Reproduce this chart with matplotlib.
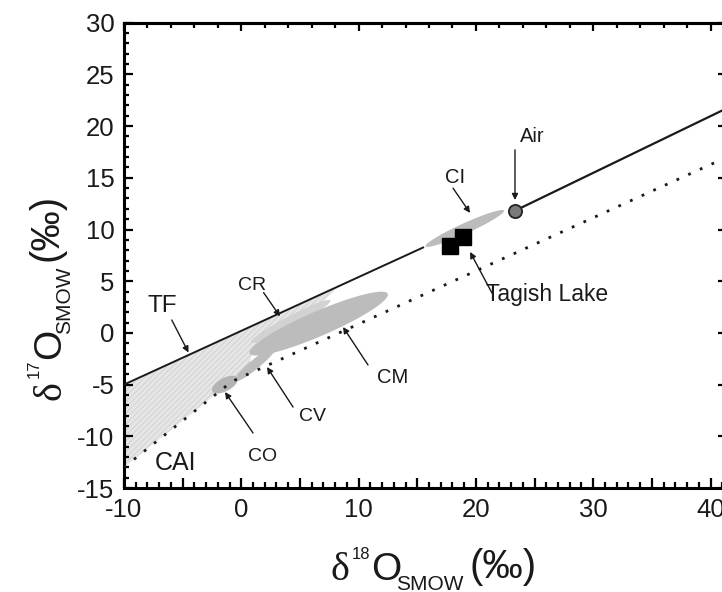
import numpy as np
import matplotlib
matplotlib.use('Agg')
import matplotlib.pyplot as plt
from matplotlib.patches import Polygon
from matplotlib.ticker import MultipleLocator, FuncFormatter, NullFormatter

plt.rcParams['font.family'] = ['Liberation Sans', 'DejaVu Sans']
plt.rcParams['axes.unicode_minus'] = False
plt.rcParams['hatch.linewidth'] = 0.7

W, H = 722, 592
INK = '#1a1a1a'
FIELD_GREY = '#bcbcbc'

# terrestrial fractionation line: d17O = TF_SLOPE * d18O + TF_OFFSET
TF_SLOPE = 0.52
TF_OFFSET = 0.2
TF_X = [-10.0, 15.5]          # left piece, stops at the CI field
TF_X_RIGHT_END = 41.2

# dotted reference line running up from the CAI corner
dotted_x = [-10.0, -0.8, 41.2]
dotted_y = [-13.0, -4.7, 16.9]

# light hatched CAI region
cai_x = [-10.0, 8.4, 6.0, 1.0, 0.6, -0.6, -1.6, -10.0]
cai_y = [-5.0, 4.57, 2.0, -1.6, -3.4, -4.3, -5.42, -13.0]

# chondrite group fields: long-axis end points and vertical half thickness
field_names = ['CR', 'CM', 'CV', 'CO', 'CI']
field_x0 = [0.8, 0.7, -0.6, -2.5, 15.7]
field_y0 = [-0.9, -1.9, -4.6, -5.5, 8.4]
field_x1 = [7.6, 12.5, 3.0, -0.3, 22.4]
field_y1 = [3.1, 3.7, -1.4, -4.5, 11.8]
field_h = [0.6, 1.3, 0.6, 0.7, 0.55]
field_color = ['#d2d2d2', FIELD_GREY, FIELD_GREY, '#b4b4b4', FIELD_GREY]

tagish_x = [17.8, 18.9]
tagish_y = [8.4, 9.25]
air_x, air_y = 23.3, 11.8

label_text = ['TF', 'CAI', 'CR', 'CM', 'CV', 'CO', 'CI', 'Air', 'Tagish Lake']
label_x = [-6.7, -5.65, 0.9, 12.9, 6.1, 1.85, 18.2, 24.8, 26.1]
label_y = [2.6, -12.6, 4.6, -4.3, -8.1, -12.0, 15.0, 18.95, 3.67]
label_size = [17.5, 18, 14, 14.5, 14, 14, 14.5, 14.5, 16.5]

# arrows: tail -> head
arrow_tail_x = [-5.93, 1.9, 10.8, 4.41, 1.0, 18.05, 23.33, 21.37]
arrow_tail_y = [1.25, 3.9, -3.1, -7.17, -9.68, 14.0, 17.7, 3.86]
arrow_head_x = [-4.5, 3.3, 8.67, 2.19, -1.39, 19.5, 23.33, 19.5]
arrow_head_y = [-1.9, 1.6, 0.57, -3.3, -5.72, 11.6, 12.85, 7.83]


def field_outline(x0, y0, x1, y1, h, n=120):
    t = np.linspace(0, 2 * np.pi, n)
    cx, cy = (x0 + x1) / 2, (y0 + y1) / 2
    ax_, ay_ = (x1 - x0) / 2, (y1 - y0) / 2
    return np.column_stack([cx + ax_ * np.cos(t), cy + ay_ * np.cos(t) + h * np.sin(t)])


def px(x, y):
    return x / W, 1 - y / H


fig = plt.figure(figsize=(W / 100, H / 100), dpi=100)
ax = fig.add_axes([124 / W, 1 - 488 / H, (724.6 - 124) / W, (488 - 22.7) / H])
ax.set_xlim(-10, 41.2)
ax.set_ylim(-15, 30)

ax.add_patch(Polygon(np.column_stack([cai_x, cai_y]), closed=True, facecolor='#e6e6e6',
                     edgecolor='#d2d2d2', linewidth=0, hatch='//////', zorder=1))

for i in range(len(field_names)):
    pts = field_outline(field_x0[i], field_y0[i], field_x1[i], field_y1[i], field_h[i])
    ax.add_patch(Polygon(pts, closed=True, facecolor=field_color[i], edgecolor='none', zorder=2))

ax.plot(dotted_x, dotted_y, linestyle=(0, (1, 3.6)), color=INK, linewidth=2.0, zorder=3)

tf_left = np.array(TF_X)
ax.plot(tf_left, TF_SLOPE * tf_left + TF_OFFSET, color=INK, linewidth=1.4, zorder=3)
ax.plot([air_x, TF_X_RIGHT_END], [air_y, TF_SLOPE * TF_X_RIGHT_END + TF_OFFSET],
        color=INK, linewidth=1.6, zorder=3)

ax.plot(tagish_x, tagish_y, 's', color='black', markersize=11, zorder=5)
ax.plot(air_x, air_y, 'o', markerfacecolor='#7a7a7a', markeredgecolor='#222222',
        markeredgewidth=1.3, markersize=9.5, zorder=5)

for i in range(len(arrow_tail_x)):
    ax.annotate('', xy=(arrow_head_x[i], arrow_head_y[i]),
                xytext=(arrow_tail_x[i], arrow_tail_y[i]),
                arrowprops=dict(arrowstyle='-|>', color=INK, lw=1.0,
                                mutation_scale=9, shrinkA=0, shrinkB=0),
                zorder=6)

for i in range(len(label_text)):
    ax.text(label_x[i], label_y[i], label_text[i], fontsize=label_size[i], color=INK,
            ha='center', va='center', zorder=6)

# ticks: bottom/left carry labels, top/right are drawn by secondary axes
ax.xaxis.set_major_locator(MultipleLocator(5))
ax.xaxis.set_minor_locator(MultipleLocator(1))
ax.xaxis.set_major_formatter(FuncFormatter(lambda v, p: '%d' % v if v % 10 == 0 else ''))
ax.yaxis.set_major_locator(MultipleLocator(5))
ax.yaxis.set_minor_locator(MultipleLocator(1))
ax.tick_params(which='both', direction='in', top=False, right=False, width=1.6,
               labelsize=18.5, labelcolor=INK, pad=7)
ax.tick_params(axis='x', which='major', length=7)
ax.tick_params(axis='x', which='minor', length=4)
ax.tick_params(axis='y', which='major', length=6.5)
ax.tick_params(axis='y', which='minor', length=3.6)
for s in ax.spines.values():
    s.set_linewidth(2.2)

secx = ax.secondary_xaxis('top')
secx.xaxis.set_major_locator(MultipleLocator(10))
secx.xaxis.set_minor_locator(MultipleLocator(2))
secx.xaxis.set_major_formatter(NullFormatter())
secx.tick_params(which='both', direction='in', width=1.6)
secx.tick_params(which='major', length=6)
secx.tick_params(which='minor', length=3.6)
secx.spines['top'].set_linewidth(2.2)

secy = ax.secondary_yaxis('right')
secy.yaxis.set_major_locator(MultipleLocator(5))
secy.yaxis.set_minor_locator(MultipleLocator(100))
secy.yaxis.set_major_formatter(NullFormatter())
secy.tick_params(which='both', direction='in', width=1.6, length=5)
secy.spines['right'].set_linewidth(2.2)

# axis titles built from pieces so sub/superscripts keep their own sizes
serif = ['Liberation Serif', 'DejaVu Serif']
xlabel_parts = [('δ', 330, 580, 29, serif), ('18', 352, 559, 12, None),
                ('O', 371, 580, 28, None), ('SMOW', 396, 590, 15, None),
                ('(‰)', 469, 578, 29, None)]
for txt, xp, yp, size, fam in xlabel_parts:
    kw = {'family': fam} if fam else {}
    fig.text(*px(xp, yp), txt, fontsize=size, color=INK, ha='left', va='baseline', **kw)

ylabel_parts = [('δ', 60, 400, 29, serif), ('17', 39, 378, 12, None),
                ('O', 60, 359, 28, None), ('SMOW', 70, 334, 15, None),
                ('(‰)', 58, 261, 29, None)]
for txt, xp, yp, size, fam in ylabel_parts:
    kw = {'family': fam} if fam else {}
    fig.text(*px(xp, yp), txt, fontsize=size, color=INK, ha='left', va='baseline',
             rotation=90, rotation_mode='anchor', **kw)

fig.savefig('out.png', dpi=100)
